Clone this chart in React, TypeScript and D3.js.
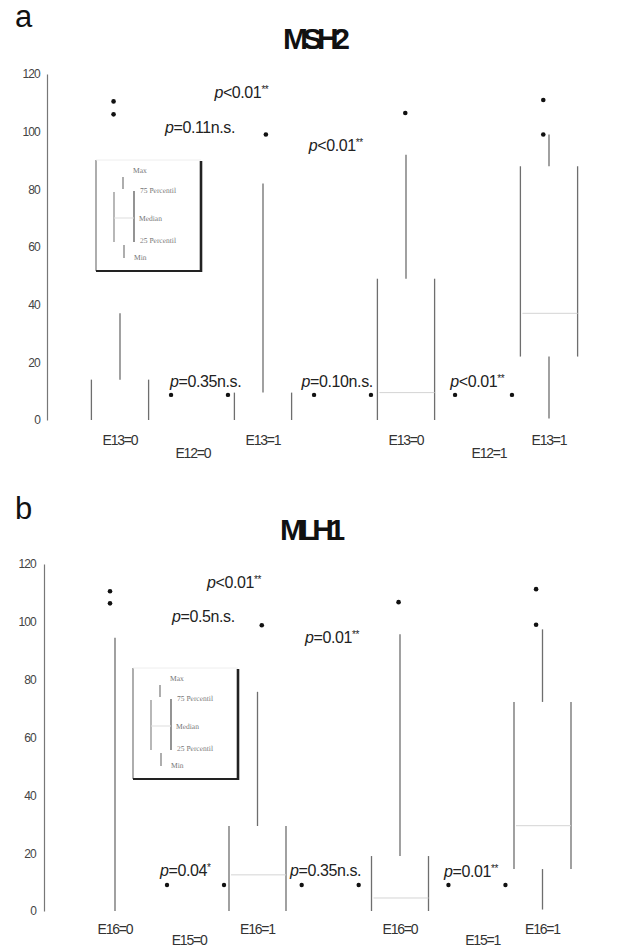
import React, { useEffect, useRef } from 'react';
import * as d3 from 'd3';

const yTicks = [0, 20, 40, 60, 80, 100, 120];
const legendLabels = ['Max', '75 Percentil', 'Median', '25 Percentil', 'Min'];

// panel a: MSH2
const catsA = ['E13=0', 'E13=1', 'E13=0', 'E13=1'];
const groupsA = ['E12=0', 'E12=1'];
const groupPosA = [0.51, 2.58];
const q1A = [0, 0, 0, 22];
const q3A = [14, 9.5, 49, 88];
const medianA = [null, null, 9.5, 37];
const lowA = [0, 0, 0, 0.5];
const highA = [37, 82, 92, 99];
const outliersA = [[110.5, 106], [99], [106.5], [111, 99]];
const outlierShiftA = [-0.045, 0.02, -0.005, -0.04];
const pTextA = ['p<0.01**', 'p=0.11n.s.', 'p<0.01**', 'p=0.35n.s.', 'p=0.10n.s.', 'p<0.01**'];
const pXA = [0.66, 0.315, 1.32, 0.35, 1.27, 2.31];
const pYA = [111.7, 99.5, 93.3, 11.4, 11.4, 11.4];
const dotXA = [0.357, 0.755, 1.357, 1.755, 2.343, 2.741];
const dotYA = [8.7, 8.7, 8.7, 8.7, 8.7, 8.7];

// panel b: MLH1
const catsB = ['E16=0', 'E16=1', 'E16=0', 'E16=1'];
const groupsB = ['E15=0', 'E15=1'];
const groupPosB = [0.52, 2.58];
const q1B = [0, 0, 0, 14.5];
const q3B = [0, 29.4, 19, 72.3];
const medianB = [null, 12.5, 4.5, 29.5];
const lowB = [0, 0, 0, 0.5];
const highB = [94.5, 75.8, 95.7, 97.4];
const outliersB = [[110.6, 106.4], [98.8], [106.8], [111.3, 99]];
const outlierShiftB = [-0.035, 0.03, -0.01, -0.045];
const pTextB = ['p<0.01**', 'p=0.5n.s.', 'p=0.01**', 'p=0.04*', 'p=0.35n.s.', 'p=0.01**'];
const pXB = [0.646, 0.4, 1.333, 0.316, 1.228, 2.309];
const pYB = [111.8, 100, 92.7, 12.1, 12.1, 11.8];
const dotXB = [0.365, 0.765, 1.31, 1.71, 2.34, 2.74];
const dotYB = [9, 9, 9, 9, 9, 9];

const sans = 'Liberation Sans, Arial, sans-serif';

function PText({ x, y, s }) {
  const m = s.match(/^p(.*?)(\*+)?$/);
  const body = m ? m[1] : s;
  const stars = m && m[2] ? m[2] : '';
  return (
    <text x={x} y={y} fontSize={16} fill="#222" fontFamily={sans} letterSpacing={-0.4}>
      <tspan fontStyle="italic">p</tspan>
      {body}
      {stars && <tspan fontSize={10} dy={-5}>{stars}</tspan>}
    </text>
  );
}

function Legend({ tx, ty }) {
  // small key drawn as a framed box-plot glyph
  return (
    <g transform={`translate(${tx},${ty})`}>
      <line x1={0} y1={0} x2={0} y2={111} stroke="#777" strokeWidth={1.2} />
      <line x1={0} y1={0} x2={105} y2={0} stroke="#eee" strokeWidth={1} />
      <line x1={0} y1={111} x2={106} y2={111} stroke="#222" strokeWidth={2.2} />
      <line x1={105} y1={1} x2={105} y2={112} stroke="#222" strokeWidth={2.6} />
      <line x1={18} y1={32} x2={18} y2={82} stroke="#888" strokeWidth={1.2} />
      <line x1={38} y1={31} x2={38} y2={82} stroke="#666" strokeWidth={1.4} />
      <line x1={18} y1={58} x2={38} y2={58} stroke="#ddd" strokeWidth={1} />
      <line x1={27} y1={17} x2={27} y2={29} stroke="#777" strokeWidth={1.2} />
      <line x1={28} y1={85} x2={28} y2={98} stroke="#777" strokeWidth={1.2} />
      {legendLabels.map((t, i) => (
        <text key={i} x={[37, 44, 43, 44, 38][i]} y={[13, 33, 61, 83, 100][i]}
          fontSize={7.5} fill="#777" fontFamily="Liberation Serif, serif"
          style={{ textRendering: 'geometricPrecision' }}>{t}</text>
      ))}
    </g>
  );
}

function Panel(props) {
  const {
    xRange, yRange, axisX, tickPad, letter, letterY, title, titleX, titleY,
    cats, groups, groupPos, q1, q3, median, low, high, outliers, outlierShift,
    pText, pX, pY, dotX, dotY, catY, groupY, legendAt,
  } = props;
  const axisRef = useRef(null);

  const x = d3.scaleLinear().domain([0, 3]).range(xRange);
  const y = d3.scaleLinear().domain([0, 120]).range(yRange);
  const hw = x(0.2) - x(0);

  useEffect(() => {
    if (!axisRef.current) return;
    const g = d3.select(axisRef.current);
    g.selectAll('*').remove();
    g.call(d3.axisLeft(y).tickValues(yTicks).tickSize(0).tickPadding(tickPad));
    g.select('.domain').attr('stroke', '#777').attr('stroke-width', 1.2);
    g.selectAll('text')
      .attr('font-size', 12)
      .attr('font-family', sans)
      .attr('letter-spacing', -0.8)
      .attr('fill', '#444');
  }, [yRange[0], yRange[1]]);

  const stroke = '#6e6e6e';

  return (
    <g>
      <text x={15} y={letterY} fontSize={31} fontFamily={sans} fill="#111">{letter}</text>
      <text x={titleX} y={titleY} fontSize={30} fontWeight="bold" fontFamily={sans}
        letterSpacing={-5.5} fill="#111">{title}</text>
      <g ref={axisRef} transform={`translate(${axisX},0)`} />

      {cats.map((c, i) => {
        const cx = x(i);
        return (
          <g key={i}>
            {q3[i] > q1[i] && (
              <>
                <line x1={cx - hw} x2={cx - hw} y1={y(q1[i])} y2={y(q3[i])} stroke={stroke} strokeWidth={1.3} />
                <line x1={cx + hw} x2={cx + hw} y1={y(q1[i])} y2={y(q3[i])} stroke={stroke} strokeWidth={1.3} />
              </>
            )}
            {median[i] != null && (
              <line x1={cx - hw + 2} x2={cx + hw} y1={y(median[i])} y2={y(median[i])} stroke="#d4d4d4" strokeWidth={1} />
            )}
            <line x1={cx} x2={cx} y1={y(q3[i])} y2={y(high[i])} stroke={stroke} strokeWidth={1.3} />
            {q1[i] > low[i] && (
              <line x1={cx} x2={cx} y1={y(low[i])} y2={y(q1[i])} stroke={stroke} strokeWidth={1.3} />
            )}
            {outliers[i].map((v, j) => (
              <circle key={j} cx={x(i + outlierShift[i])} cy={y(v)} r={2.3} fill="#111" />
            ))}
            <text x={cx} y={catY} textAnchor="middle" fontSize={14} letterSpacing={-1.2}
              fontFamily={sans} fill="#333">{c}</text>
          </g>
        );
      })}

      {groups.map((g, i) => (
        <text key={i} x={x(groupPos[i])} y={groupY} textAnchor="middle" fontSize={14}
          letterSpacing={-1.2} fontFamily={sans} fill="#333">{g}</text>
      ))}

      {dotX.map((d, i) => (
        <circle key={i} cx={x(d)} cy={y(dotY[i])} r={2.2} fill="#111" />
      ))}

      {pText.map((s, i) => (
        <PText key={i} x={x(pX[i])} y={y(pY[i])} s={s} />
      ))}

      <Legend tx={legendAt[0]} ty={legendAt[1]} />
    </g>
  );
}

export default function App() {
  return (
    <svg width={629} height={948} style={{ position: 'absolute', left: 0, top: 0, background: '#fff' }}>
      <rect width={629} height={948} fill="#fff" />
      <Panel
        xRange={[120, 549]} yRange={[420, 74]} axisX={47} tickPad={7}
        letter="a" letterY={27} title="MSH2" titleX={283} titleY={49}
        cats={catsA} groups={groupsA} groupPos={groupPosA}
        q1={q1A} q3={q3A} median={medianA} low={lowA} high={highA}
        outliers={outliersA} outlierShift={outlierShiftA}
        pText={pTextA} pX={pXA} pY={pYA} dotX={dotXA} dotY={dotYA}
        catY={445} groupY={458} legendAt={[96, 160]}
      />
      <Panel
        xRange={[115, 542.5]} yRange={[911, 564]} axisX={44} tickPad={8}
        letter="b" letterY={519} title="MLH1" titleX={280} titleY={540}
        cats={catsB} groups={groupsB} groupPos={groupPosB}
        q1={q1B} q3={q3B} median={medianB} low={lowB} high={highB}
        outliers={outliersB} outlierShift={outlierShiftB}
        pText={pTextB} pX={pXB} pY={pYB} dotX={dotXB} dotY={dotYB}
        catY={934} groupY={945} legendAt={[133, 668]}
      />
    </svg>
  );
}
